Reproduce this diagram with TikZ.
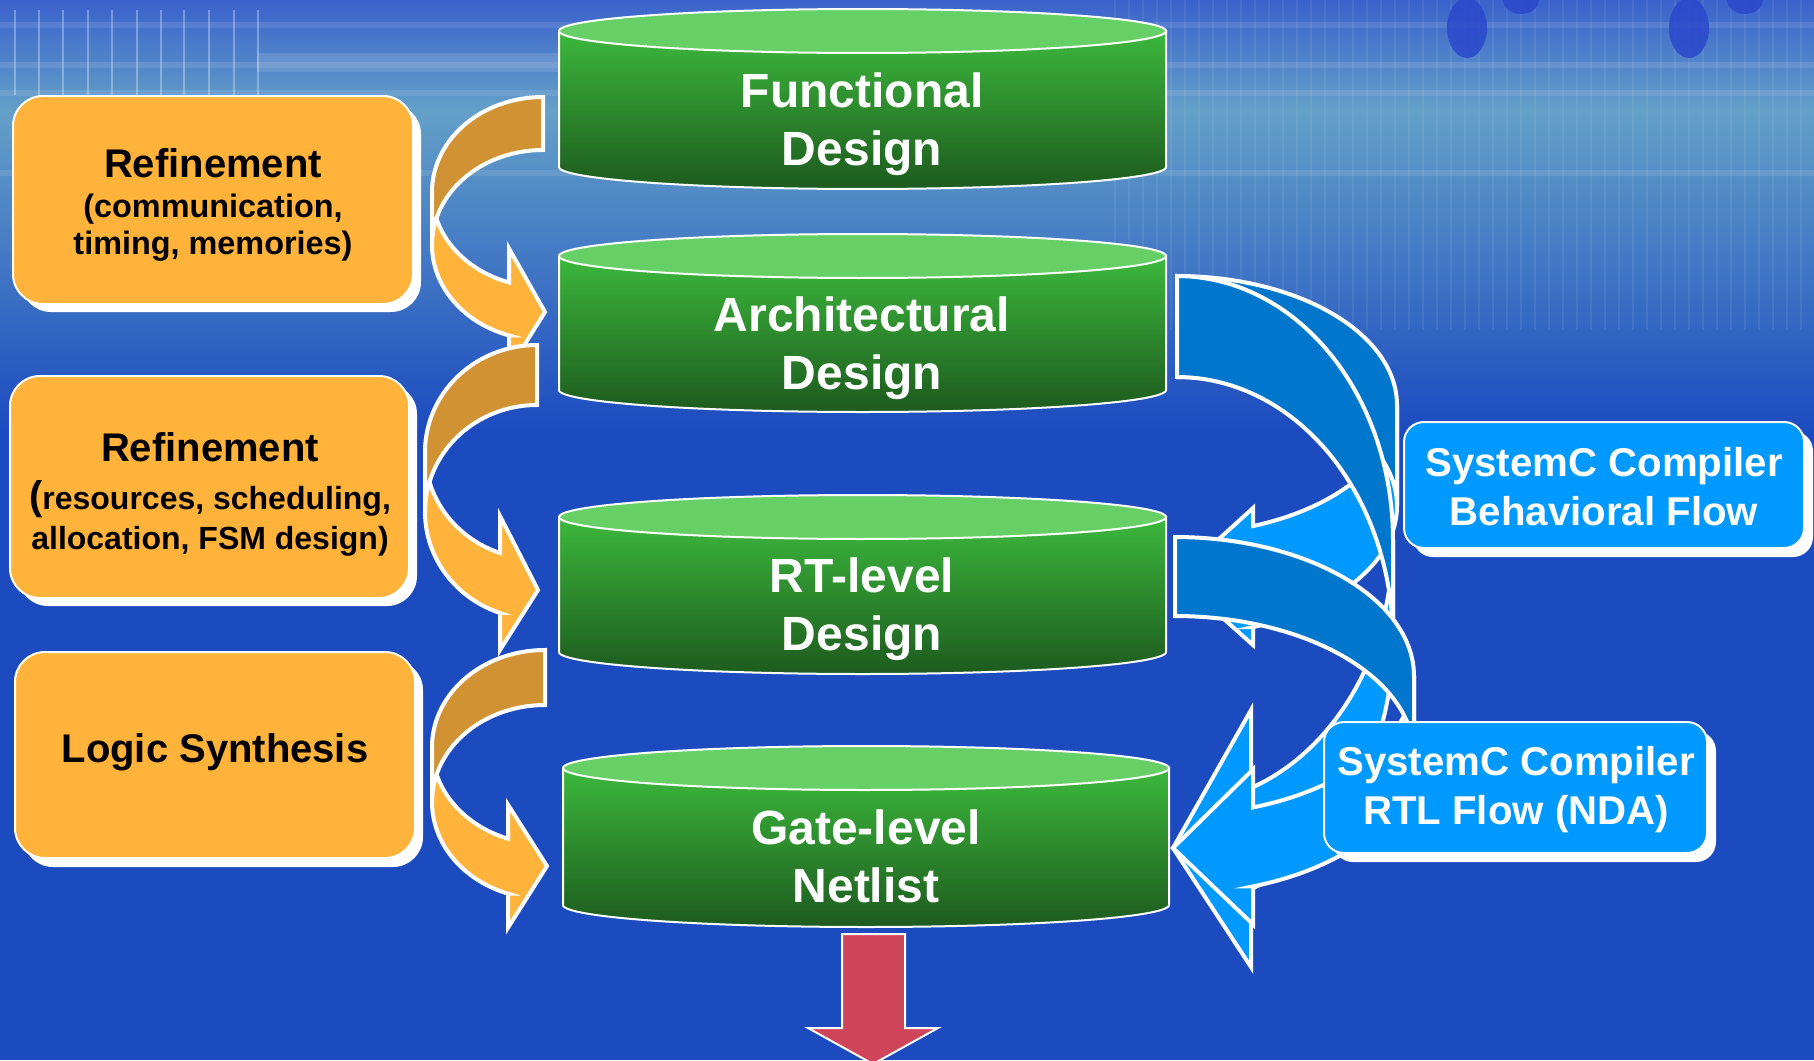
\documentclass[tikz,border=0pt]{standalone}
\usepackage{fontspec}
\setmainfont{Liberation Sans}
\definecolor{orL}{HTML}{FFB33B}
\definecolor{orD}{HTML}{D09232}
\definecolor{blD}{HTML}{0077CC}
\definecolor{blL}{HTML}{0099FF}
\definecolor{gTop}{HTML}{66CF66}
\definecolor{gHi}{HTML}{3CB83C}
\definecolor{gMid}{HTML}{2C8A2E}
\definecolor{gLo}{HTML}{1D5A1E}
\definecolor{bgBlue}{HTML}{1C4BC0}
\definecolor{bgTop}{HTML}{3A62CC}
\definecolor{bgTeal}{HTML}{64A0C8}
\definecolor{redA}{HTML}{D04459}
\definecolor{dotB}{HTML}{2A48CC}

% curled ribbon arrow: #1 cx, #2 ytop, #3 W (signed), #4 H, #5 thickness, #6 head base x, #7 barb, #8 tip x, #9 tip y
\newcommand{\curlarrow}[9]{%
  \pgfmathsetmacro{\cyE}{#2+#4}%
  \pgfmathsetmacro{\aE}{acos((#6-#1)/(#3))}%
  \pgfmathsetmacro{\yA}{\cyE+#4*sin(\aE)}%
  \pgfmathsetmacro{\yB}{\yA+#5}%
  \filldraw[ribbon, fill=\clight]
    plot[domain=0:\aE, samples=50] ({#1+(#3)*cos(\x)},{\cyE+#4*sin(\x)})
    -- (#6,\yA-#7) -- (#8,#9) -- (#6,\yB+#7) -- (#6,\yB)
    -- plot[domain=\aE:0, samples=50] ({#1+(#3)*cos(\x)},{\cyE+#5+#4*sin(\x)}) -- cycle;
  \filldraw[ribbon, fill=\cdark]
    plot[domain=270:360, samples=50] ({#1+(#3)*cos(\x)},{\cyE+#4*sin(\x)})
    -- plot[domain=360:270, samples=50] ({#1+(#3)*cos(\x)},{\cyE+#5+#4*sin(\x)}) -- cycle;
}

% cylinder: #1 left x, #2 right x, #3 top centre y, #4 bottom centre y, #5 ry
\newcommand{\cylshape}[5]{%
  \pgfmathsetmacro{\cxm}{(#1+#2)/2}%
  \pgfmathsetmacro{\rxm}{(#2-#1)/2}%
  \shade[top color=gHi, middle color=gMid, bottom color=gLo]
    (#1,#3) -- (#1,#4) -- plot[domain=180:0, samples=80] ({\cxm+\rxm*cos(\x)},{#4+#5*sin(\x)}) -- (#2,#3) -- cycle;
  \draw[cylline] (#1,#3) -- (#1,#4) -- plot[domain=180:0, samples=80] ({\cxm+\rxm*cos(\x)},{#4+#5*sin(\x)}) -- (#2,#3);
  \filldraw[cylline, fill=gTop] plot[domain=0:360, samples=120] ({\cxm+\rxm*cos(\x)},{#3+#5*sin(\x)}) -- cycle;
}

\begin{document}
\begin{tikzpicture}[x=0.5pt, y=-0.5pt,
  ribbon/.style={draw=white, line width=2pt, line join=miter},
  cylline/.style={draw=white, line width=1pt},
  orbox/.style={fill=orL, draw=white, line width=1pt, rounded corners=15pt},
  blbox/.style={fill=blL, draw=white, line width=1pt, rounded corners=10pt},
  shadowbox/.style={fill=white, rounded corners=15pt},
  cyltxt/.style={text=white, font=\fontsize{24pt}{29pt}\selectfont\bfseries, align=center, inner sep=0pt},
  boxhead/.style={text=black, font=\fontsize{20pt}{24pt}\selectfont\bfseries, align=center, inner sep=0pt},
  boxsub/.style={text=black, font=\fontsize{16.2pt}{18.5pt}\selectfont\bfseries, align=center, inner sep=0pt},
  boxsubb/.style={text=black, font=\fontsize{16pt}{20pt}\selectfont\bfseries, align=center, inner sep=0pt},
  bltxt/.style={text=white, font=\fontsize{20.1pt}{24.5pt}\selectfont\bfseries, align=center, inner sep=0pt},
  redarrow/.style={fill=redA, draw=white, line width=1pt}
]
\useasboundingbox (0,0) rectangle (1814,1060);

% ---------- background ----------
\fill[bgBlue] (0,0) rectangle (1814,1060);
\shade[top color=bgTop, bottom color=bgTeal] (0,0) rectangle (1814,110);
\shade[top color=bgTeal, bottom color=bgBlue] (0,110) rectangle (1814,430);
\fill[white, opacity=0.12] (257,53) rectangle (1100,72);
\foreach \yy in {22,62,90,170} {\fill[white, opacity=0.10] (0,\yy) rectangle (1814,\yy+6);}
\foreach \xx in {15,39,63,88,112,137,161,184,209,234,258} {\draw[white, opacity=0.3, line width=1.2pt] (\xx,10) -- (\xx,95);}
\foreach \i in {0,...,49} {\draw[white, opacity=0.07, line width=0.8pt] ({1115+\i*14},0) -- ({1115+\i*14},330);}
\fill[dotB, opacity=0.85] (1467,28) ellipse [x radius=10pt, y radius=15pt];
\fill[dotB, opacity=0.85] (1689,28) ellipse [x radius=10pt, y radius=15pt];
\fill[dotB, opacity=0.85] (1521,0) ellipse [x radius=9pt, y radius=7pt];
\fill[dotB, opacity=0.85] (1745,0) ellipse [x radius=9pt, y radius=7pt];

% ---------- orange boxes ----------
\fill[shadowbox] (21,104) rectangle (421,312);
\draw[orbox] (13,96) rectangle (413,304);
\fill[shadowbox] (18,384) rectangle (417,606);
\draw[orbox] (10,376) rectangle (409,598);
\fill[shadowbox] (23,660) rectangle (423,867);
\draw[orbox] (15,652) rectangle (415,858);

\node[boxhead] (r1h) at (213,163) {Refinement};
\node[boxsub]  (r1s) at (213,228) {(communication,\\timing, memories)};
\node[boxhead] (r2h) at (210,447) {Refinement};
\node[boxsubb] (r2s) at (210,518) {{\fontsize{20pt}{20pt}\selectfont(}resources, scheduling,\\allocation, FSM design)};
\node[boxhead] (ls)  at (215,752) {Logic Synthesis};

% ---------- cylinders ----------
\cylshape{559}{1166}{31}{167}{22}
\cylshape{559}{1166}{256}{390}{22}
\cylshape{559}{1166}{517}{652}{22}
\cylshape{563}{1169}{768}{905}{22}

\node[cyltxt] (fd) at (862,124) {Functional\\Design};
\node[cyltxt] (ad) at (862,348) {Architectural\\Design};
\node[cyltxt] (rd) at (862,609) {RT-level\\Design};
\node[cyltxt] (gd) at (866,856) {Gate-level\\Netlist};

% ---------- orange curled arrows ----------
\def\clight{orL}\def\cdark{orD}
\curlarrow{543}{97}{-111}{95}{53}{509}{34}{545}{312}
\curlarrow{537}{345}{-112}{107}{60}{500}{37}{538}{590}
\curlarrow{545}{650}{-113}{97}{55}{508}{34}{547}{866}

% ---------- blue curled arrows ----------
\def\clight{blL}\def\cdark{blD}
\curlarrow{1177}{276}{220}{129}{101}{1253}{18}{1177}{577}
\curlarrow{1177}{276}{216}{264}{101}{1251}{78}{1173}{848}
\curlarrow{1175}{537}{239}{139}{79}{1253}{38}{1173}{848}

% ---------- SystemC boxes ----------
\fill[shadowbox, rounded corners=10pt] (1413,431) rectangle (1813,557);
\draw[blbox] (1404,422) rectangle (1804,548);
\node[bltxt] (beh) at (1604,487) {SystemC Compiler\\Behavioral Flow};
\fill[shadowbox, rounded corners=10pt] (1333,731) rectangle (1716,862);
\draw[blbox] (1324,722) rectangle (1707,853);
\node[bltxt] (rtl) at (1516,790) {SystemC Compiler\\RTL Flow (NDA)};

% ---------- output arrow ----------
\filldraw[redarrow] (842,934) -- (905,934) -- (905,1028) -- (938,1028) -- (873,1064) -- (808,1028) -- (842,1028) -- cycle;
\end{tikzpicture}
\end{document}
